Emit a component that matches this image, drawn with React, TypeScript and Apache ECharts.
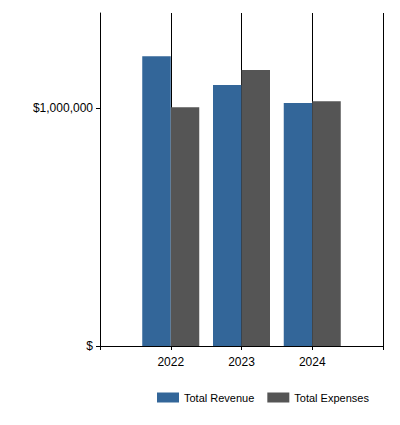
import React, { useEffect, useRef } from "react";
import * as echarts from "echarts";

// Fiscal years and totals (USD)
const years = ["2022", "2023", "2024"];
const totalRevenue = [1218000, 1097000, 1022000];
const totalExpenses = [1004000, 1160000, 1029000];
const yTickValues = [0, 1000000];
const yMax = 1400000;

const FONT = "'Liberation Sans', Arial, sans-serif";

// Padding categories on each end so the years sit on interior gridlines
const categories = ["", ...years, ""];
const pad = (vals: number[]) => [null, ...vals, null];

const formatDollars = (v: number) =>
  v === 0 ? "$" : "$" + Math.round(v).toLocaleString("en-US");

export default function App() {
  const ref = useRef<HTMLDivElement>(null);

  useEffect(() => {
    if (!ref.current) return;
    const chart = echarts.init(ref.current, undefined, { renderer: "svg" });
    chart.setOption({
      animation: false,
      backgroundColor: "#ffffff",
      grid: { left: 100, right: 17, top: 13, bottom: 79, containLabel: false },
      legend: {
        left: 157,
        top: 392,
        padding: 0,
        icon: "rect",
        itemWidth: 22,
        itemHeight: 10,
        itemGap: 13,
        textStyle: { fontFamily: FONT, fontSize: 11, color: "#000" },
        data: ["Total Revenue", "Total Expenses"],
      },
      xAxis: {
        type: "category",
        data: categories,
        boundaryGap: false,
        axisLine: { show: true, lineStyle: { color: "#000", width: 1 } },
        axisTick: { show: true, length: 4, lineStyle: { color: "#000" } },
        splitLine: { show: true, lineStyle: { color: "#000", width: 1 } },
        axisLabel: {
          fontFamily: FONT,
          fontSize: 12,
          color: "#000",
          margin: 10,
          interval: 0,
        },
      },
      yAxis: {
        type: "value",
        min: 0,
        max: yMax,
        interval: 1000000,
        axisLine: { show: true, lineStyle: { color: "#000", width: 1 } },
        axisTick: {
          show: true,
          length: 4,
          lineStyle: { color: "#000" },
          customValues: yTickValues,
        },
        splitLine: {
          show: true,
          showMaxLine: false,
          lineStyle: { color: "#000", width: 1 },
        },
        axisLabel: {
          fontFamily: FONT,
          fontSize: 12,
          color: "#000",
          margin: 7,
          customValues: yTickValues,
          formatter: (v: number) => formatDollars(v),
        },
      },
      series: [
        {
          name: "Total Revenue",
          type: "bar",
          data: pad(totalRevenue),
          barWidth: 28.5,
          barGap: "0%",
          itemStyle: { color: "#336699" },
        },
        {
          name: "Total Expenses",
          type: "bar",
          data: pad(totalExpenses),
          barWidth: 28.5,
          barGap: "0%",
          itemStyle: { color: "#555555" },
        },
      ],
    });
    return () => chart.dispose();
  }, []);

  return (
    <div
      ref={ref}
      style={{ position: "absolute", left: 0, top: 0, width: 400, height: 425 }}
    />
  );
}
